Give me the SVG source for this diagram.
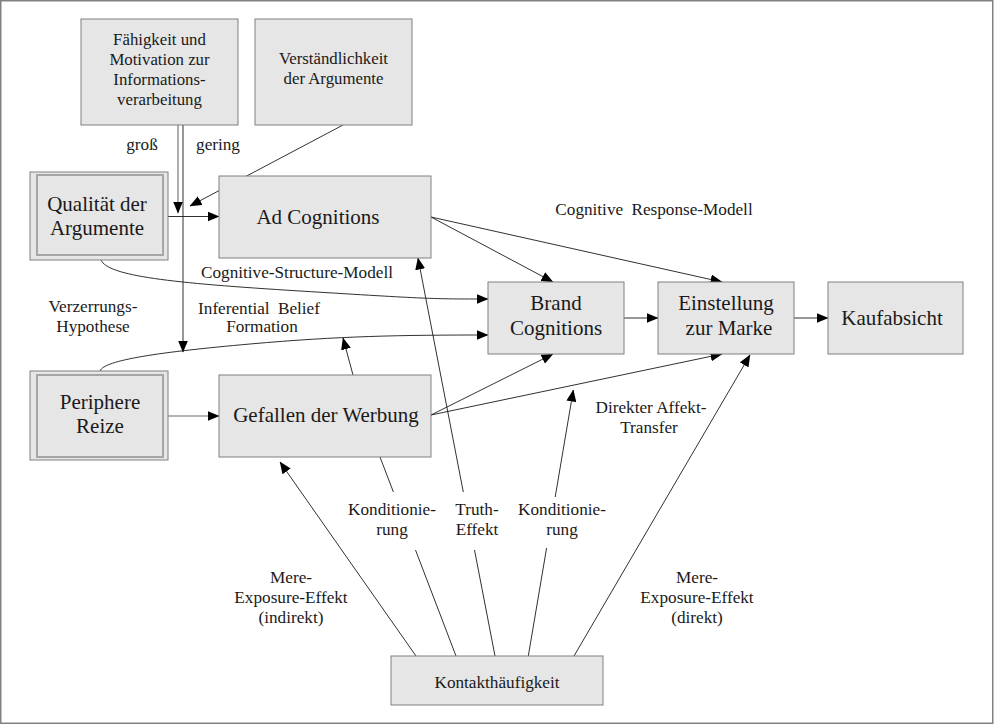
<svg xmlns="http://www.w3.org/2000/svg" width="995" height="725" viewBox="0 0 995 725">
<style>
.box{fill:#e6e6e6;stroke:#808080;stroke-width:1}
.inner{fill:#e6e6e6;stroke:#a6a6a6;stroke-width:2}
.t{fill:#1a1a1a;text-anchor:middle}
.n{font-size:21px}
.s{font-size:16.8px}
.l{font-size:17.2px}
.ws{word-spacing:4px}
.c{fill:none;stroke:#1a1a1a;stroke-width:0.9}
.g{fill:none;stroke:#9a9a9a;stroke-width:1.6}
.a{marker-end:url(#ah)}
</style>
<defs>
<marker id="ah" markerUnits="userSpaceOnUse" markerWidth="12" markerHeight="10" refX="11.5" refY="5" orient="auto">
<path d="M0,0 L12,5 L0,10 z" fill="#000"/>
</marker>
</defs>
<rect x="0.75" y="0.75" width="992" height="722.5" fill="#fff" stroke="#808080" stroke-width="1.5"/>

<g id="connectors">
<line class="g a" x1="178" y1="125" x2="178" y2="213"/>
<line class="c a" x1="183" y1="125" x2="183" y2="352"/>
<line class="c a" x1="343" y1="125" x2="190" y2="206"/>
<line class="c a" x1="168" y1="216.5" x2="219" y2="216.5"/>
<line class="c a" x1="431" y1="217" x2="553" y2="282"/>
<line class="c a" x1="431" y1="217" x2="722" y2="282"/>
<path class="c a" d="M101,260 C108,276 170,283 300,291 S430,299 488,299"/>
<path class="c a" d="M100,371 C104,360 160,352 250,344 S400,335 488,335"/>
<line class="c a" x1="353" y1="375" x2="343" y2="338"/>
<line class="g a" x1="168" y1="416" x2="219" y2="416"/>
<line class="c a" x1="431" y1="415" x2="553" y2="354"/>
<line class="c a" x1="431" y1="415" x2="722" y2="354"/>
<line class="c a" x1="624" y1="318" x2="658" y2="318"/>
<line class="c a" x1="794" y1="318" x2="828" y2="318"/>
<line class="c a" x1="416" y1="656" x2="280" y2="462"/>
<line class="c" x1="456" y1="656" x2="415.5" y2="550"/>
<line class="c" x1="393.4" y1="492" x2="380" y2="457"/>
<line class="c" x1="495" y1="656" x2="474.5" y2="550"/>
<line class="c a" x1="463.3" y1="492" x2="418" y2="258"/>
<line class="c" x1="528.3" y1="656" x2="546.6" y2="548"/>
<line class="c a" x1="555.2" y1="497" x2="573.3" y2="390"/>
<line class="c a" x1="574" y1="656" x2="750" y2="355"/>
</g>

<g font-family="'Liberation Serif', 'DejaVu Serif', serif">
<g id="faehigkeit">
<rect class="box" x="81" y="19" width="157" height="106"/>
<text class="t s" x="159.5" y="45">Fähigkeit und</text>
<text class="t s" x="159.5" y="65">Motivation zur</text>
<text class="t s" x="159.5" y="85">Informations-</text>
<text class="t s" x="159.5" y="105">verarbeitung</text>
</g>
<g id="verstaendlichkeit">
<rect class="box" x="255" y="19" width="157" height="106"/>
<text class="t s" x="333.5" y="64">Verständlichkeit</text>
<text class="t s" x="333.5" y="84">der Argumente</text>
</g>
<g id="qualitaet">
<rect class="box" x="30" y="172" width="138" height="88"/>
<rect class="inner" x="37" y="175" width="126" height="80"/>
<text class="t n" x="97" y="211">Qualität der</text>
<text class="t n" x="97" y="235">Argumente</text>
</g>
<g id="adcognitions">
<rect class="box" x="219" y="176" width="212" height="82"/>
<text class="t n" x="318" y="224">Ad Cognitions</text>
</g>
<g id="periphere">
<rect class="box" x="30" y="371" width="138" height="89"/>
<rect class="inner" x="37" y="375" width="126" height="82"/>
<text class="t n" x="100" y="409">Periphere</text>
<text class="t n" x="100" y="433">Reize</text>
</g>
<g id="gefallen">
<rect class="box" x="219" y="375" width="212" height="82"/>
<text class="t n" x="326" y="422">Gefallen der Werbung</text>
</g>
<g id="brand">
<rect class="box" x="488" y="282" width="136" height="72"/>
<text class="t n" x="556" y="310">Brand</text>
<text class="t n" x="556" y="335">Cognitions</text>
</g>
<g id="einstellung">
<rect class="box" x="658" y="282" width="136" height="72"/>
<text class="t n" x="726" y="310">Einstellung</text>
<text class="t n" x="729" y="335">zur Marke</text>
</g>
<g id="kaufabsicht">
<rect class="box" x="828" y="282" width="135" height="72"/>
<text class="t n" x="892" y="325">Kaufabsicht</text>
</g>
<g id="kontakt">
<rect class="box" x="391" y="656" width="212" height="49"/>
<text class="t l" x="497" y="688">Kontakthäufigkeit</text>
</g>

<g id="labels">
<text class="t l" x="142" y="150">groß</text>
<text class="t l" x="218" y="150">gering</text>
<text class="t l ws" x="654" y="215">Cognitive Response-Modell</text>
<text class="t l" x="297" y="278">Cognitive-Structure-Modell</text>
<text class="t l" x="93" y="312">Verzerrungs-</text>
<text class="t l" x="93" y="332">Hypothese</text>
<text class="t l ws" x="259" y="314">Inferential Belief</text>
<text class="t l" x="262" y="332">Formation</text>
<text class="t l" x="651" y="413">Direkter Affekt-</text>
<text class="t l" x="649" y="433">Transfer</text>
<text class="t l" x="392" y="515">Konditionie-</text>
<text class="t l" x="392" y="535">rung</text>
<text class="t l" x="477" y="515">Truth-</text>
<text class="t l" x="477" y="535">Effekt</text>
<text class="t l" x="562" y="515">Konditionie-</text>
<text class="t l" x="562" y="535">rung</text>
<text class="t l" x="291" y="583">Mere-</text>
<text class="t l" x="291" y="603">Exposure-Effekt</text>
<text class="t l" x="291" y="623">(indirekt)</text>
<text class="t l" x="697" y="583">Mere-</text>
<text class="t l" x="697" y="603">Exposure-Effekt</text>
<text class="t l" x="697" y="623">(direkt)</text>
</g>
</g>
</svg>
